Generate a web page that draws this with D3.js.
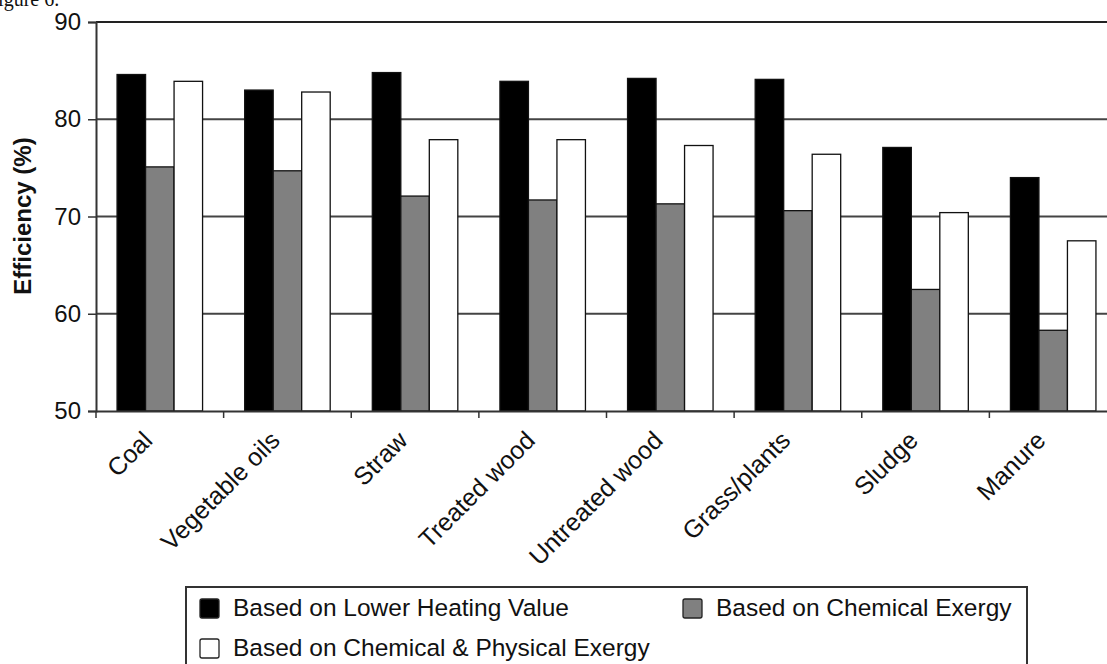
<!DOCTYPE html>
<html>
<head>
<meta charset="utf-8">
<script src="https://cdn.jsdelivr.net/npm/d3@7"></script>
<style>
  html, body { margin: 0; padding: 0; background: #fff; }
  svg { display: block; font-family: "Liberation Sans", Arial, Helvetica, sans-serif; }
</style>
</head>
<body>
<svg id="chart" width="1107" height="664"></svg>
<script>
// ---- data ----
const categories = ["Coal", "Vegetable oils", "Straw", "Treated wood", "Untreated wood", "Grass/plants", "Sludge", "Manure"];
const seriesNames = ["Based on Lower Heating Value", "Based on Chemical Exergy", "Based on Chemical & Physical Exergy"];
const lowerHeatingValue = [84.6, 83.0, 84.8, 83.9, 84.2, 84.1, 77.1, 74.0];
const chemicalExergy = [75.1, 74.7, 72.1, 71.7, 71.3, 70.6, 62.5, 58.3];
const chemPhysExergy = [83.9, 82.8, 77.9, 77.9, 77.3, 76.4, 70.4, 67.5];
const yTicks = [50, 60, 70, 80, 90];
const seriesColors = ["#000000", "#808080", "#ffffff"];

const seriesValues = [lowerHeatingValue, chemicalExergy, chemPhysExergy];
const table = categories.map((c, i) => ({ cat: c, values: seriesValues.map(s => s[i]) }));

const svg = d3.select("#chart");
const plotLeft = 96, plotRight = 1117, plotTop = 22, plotBottom = 411;

const x = d3.scaleBand().domain(categories).range([plotLeft, plotRight]).paddingInner(0.33).paddingOuter(0.165);
const xs = d3.scaleBand().domain(d3.range(seriesNames.length)).range([0, x.bandwidth()]);
const y = d3.scaleLinear().domain([50, 90]).range([plotBottom, plotTop]);

// caption fragment at the very top (cut off by the page edge, as in the source)
svg.append("text").attr("x", -13).attr("y", 6)
  .attr("font-family", "'Liberation Serif', 'Times New Roman', serif")
  .attr("font-size", 20).attr("fill", "#111").text("Figure 6.");

// gridlines
svg.append("g").selectAll("line").data(yTicks.filter(t => t > 50 && t < 90)).join("line")
  .attr("x1", plotLeft).attr("x2", plotRight).attr("y1", d => y(d)).attr("y2", d => y(d))
  .attr("stroke", "#444").attr("stroke-width", 1.8);
// top border
svg.append("line").attr("x1", plotLeft).attr("x2", plotRight).attr("y1", y(90)).attr("y2", y(90))
  .attr("stroke", "#222").attr("stroke-width", 2);

// bars
const groups = svg.append("g").selectAll("g").data(table).join("g")
  .attr("transform", d => `translate(${x(d.cat)},0)`);
groups.selectAll("rect").data(d => d.values.map((v, k) => ({ v, k }))).join("rect")
  .attr("x", d => xs(d.k)).attr("width", xs.bandwidth())
  .attr("y", d => y(d.v)).attr("height", d => y(50) - y(d.v))
  .attr("fill", d => seriesColors[d.k])
  .attr("stroke", "#111").attr("stroke-width", 1.3);

// y axis
const yAxis = svg.append("g").attr("transform", `translate(${plotLeft},0)`)
  .call(d3.axisLeft(y).tickValues(yTicks).tickSize(8).tickPadding(7).tickFormat(d3.format("d")));
yAxis.select(".domain").attr("stroke", "#333").attr("stroke-width", 2);
yAxis.selectAll(".tick line").attr("stroke", "#333").attr("stroke-width", 1.5);
yAxis.selectAll(".tick text").attr("font-size", 24).attr("fill", "#111")
  .attr("font-family", "'Liberation Sans', Arial, sans-serif");

// x axis (ticks at group boundaries)
const xAxis = svg.append("g").attr("transform", `translate(0,${plotBottom})`)
  .call(d3.axisBottom(x).tickSize(0).tickFormat(""));
xAxis.select(".domain").attr("stroke", "#333").attr("stroke-width", 2);
xAxis.selectAll(".tick").remove();
const boundaries = categories.map(c => x(c) - x.step() * x.paddingInner() / 2);
svg.append("g").selectAll("line").data(boundaries).join("line")
  .attr("x1", d => d).attr("x2", d => d).attr("y1", plotBottom).attr("y2", plotBottom + 7)
  .attr("stroke", "#333").attr("stroke-width", 1.5);

// x labels rotated
svg.append("g").selectAll("text").data(categories).join("text")
  .attr("transform", d => `translate(${x(d) + x.bandwidth() / 2 - 6},442) rotate(-45)`)
  .attr("text-anchor", "end").attr("font-size", 25).attr("fill", "#111").text(d => d);

// y label
svg.append("text").attr("transform", "translate(31,216) rotate(-90)")
  .attr("text-anchor", "middle").attr("font-size", 24).attr("font-weight", "bold")
  .attr("fill", "#111").text("Efficiency (%)");

// legend
const lg = svg.append("g");
lg.append("rect").attr("x", 186).attr("y", 587).attr("width", 841).attr("height", 100)
  .attr("fill", "#fff").attr("stroke", "#333").attr("stroke-width", 2);
const legendPos = [[200, 599], [683, 599], [200, 639]];
seriesNames.forEach((name, i) => {
  const [lx, ly] = legendPos[i];
  lg.append("rect").attr("x", lx).attr("y", ly).attr("width", 19).attr("height", 19)
    .attr("rx", 2).attr("fill", seriesColors[i]).attr("stroke", "#222").attr("stroke-width", 1.3);
  lg.append("text").attr("x", lx + 33).attr("y", ly + 17).attr("font-size", 24.5)
    .attr("fill", "#111").text(name);
});
</script>
</body>
</html>
